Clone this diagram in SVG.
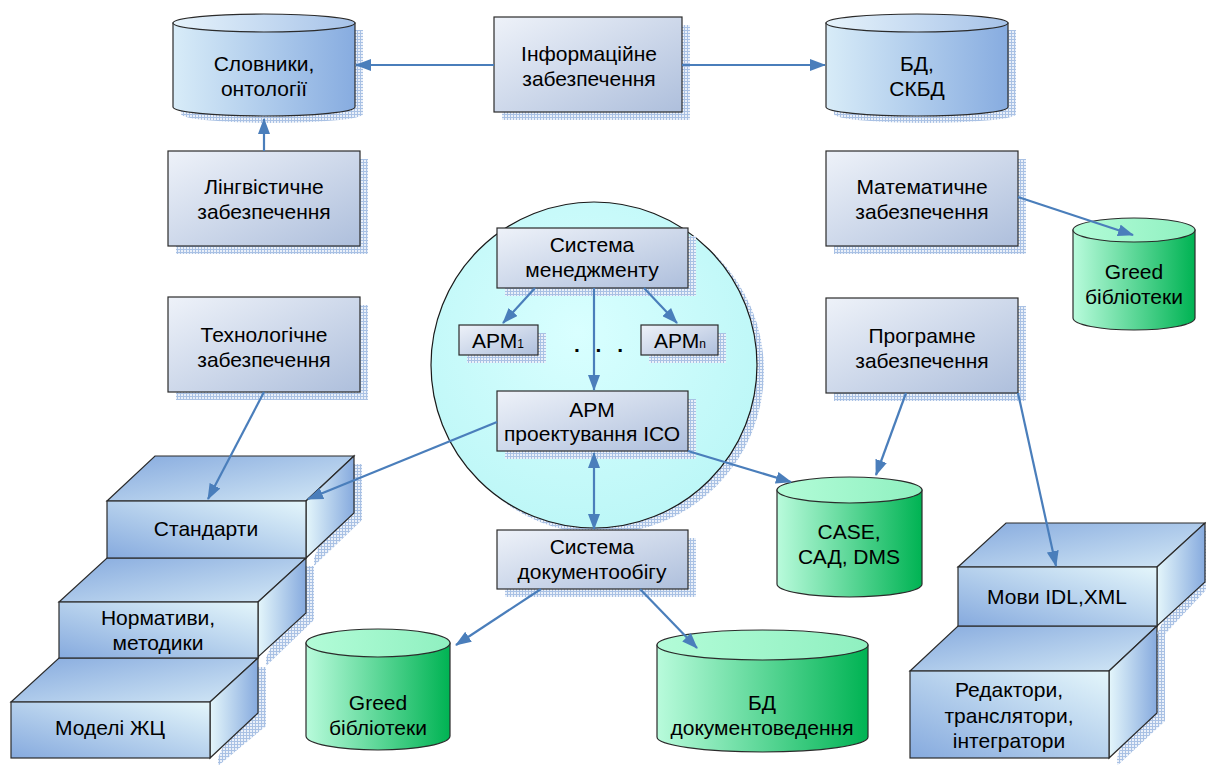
<svg xmlns="http://www.w3.org/2000/svg" width="1206" height="765" viewBox="0 0 1206 765">
<style>
text{font-family:"Liberation Sans",Arial,sans-serif;font-size:21px;fill:#000;text-anchor:middle}
.box{fill:url(#gBox);stroke:#2b2b2b;stroke-width:1.2}
.sh{fill:url(#hatch)}
.bcyl{fill:url(#gBlueCyl);stroke:#2b2b2b;stroke-width:1.2}
.btop{fill:url(#gBlueTop);stroke:#2b2b2b;stroke-width:1.2}
.gcyl{fill:url(#gGreenCyl);stroke:#2b2b2b;stroke-width:1.2}
.gtop{fill:url(#gGreenTop);stroke:#2b2b2b;stroke-width:1.2}
.front{fill:url(#gFront);stroke:#2b2b2b;stroke-width:1.2}
.topf{fill:url(#gTopF);stroke:#2b2b2b;stroke-width:1.2}
.side{fill:url(#gSide);stroke:#2b2b2b;stroke-width:1.2}
.c{stroke:#4a7ebb;stroke-width:2.2;fill:none;marker-end:url(#ah)}
</style>
<defs>
<pattern id="hatch" width="3" height="3" patternUnits="userSpaceOnUse">
<rect width="3" height="3" fill="#eaf0f9"/>
<path d="M0 0.5H3M0.5 0V3" stroke="#a9c1e4" stroke-width="1"/>
</pattern>
<linearGradient id="gBox" x1="0" y1="0" x2="1" y2="1">
<stop offset="0" stop-color="#eef2f9"/>
<stop offset="1" stop-color="#aebfdc"/>
</linearGradient>
<linearGradient id="gBlueCyl" x1="0" y1="0" x2="1" y2="0">
<stop offset="0" stop-color="#d8ecf8"/>
<stop offset="1" stop-color="#87ace0"/>
</linearGradient>
<linearGradient id="gBlueTop" x1="0" y1="0" x2="1" y2="0">
<stop offset="0" stop-color="#e6f3fb"/>
<stop offset="1" stop-color="#a6c2e8"/>
</linearGradient>
<linearGradient id="gGreenCyl" x1="0" y1="0" x2="1" y2="0">
<stop offset="0" stop-color="#b9fbdc"/>
<stop offset="1" stop-color="#00b353"/>
</linearGradient>
<linearGradient id="gGreenTop" x1="0" y1="0" x2="1" y2="0">
<stop offset="0" stop-color="#b3fcd8"/>
<stop offset="1" stop-color="#8ff0c0"/>
</linearGradient>
<linearGradient id="gFront" x1="0" y1="1" x2="1" y2="0">
<stop offset="0" stop-color="#86aade"/>
<stop offset="1" stop-color="#e4f6fb"/>
</linearGradient>
<linearGradient id="gTopF" x1="0" y1="0" x2="1" y2="1">
<stop offset="0" stop-color="#86aade"/>
<stop offset="1" stop-color="#d3e8f6"/>
</linearGradient>
<linearGradient id="gSide" x1="0" y1="0" x2="1" y2="0">
<stop offset="0" stop-color="#e4f6fb"/>
<stop offset="1" stop-color="#86aade"/>
</linearGradient>
<radialGradient id="gCircle" cx="0.45" cy="0.4" r="0.6">
<stop offset="0" stop-color="#d9ffff"/>
<stop offset="1" stop-color="#bdf7f7"/>
</radialGradient>
<marker id="ah" markerWidth="16" markerHeight="12" refX="15" refY="6" orient="auto" markerUnits="userSpaceOnUse">
<path d="M0 0L16 6L0 12Z" fill="#4a7ebb"/>
</marker>
<marker id="ahs" markerWidth="16" markerHeight="12" refX="1" refY="6" orient="auto" markerUnits="userSpaceOnUse">
<path d="M16 0L0 6L16 12Z" fill="#4a7ebb"/>
</marker>
</defs>
<rect width="1206" height="765" fill="#fff"/>

<!-- circle -->
<g id="circle">
<circle cx="601" cy="371" r="163" class="sh"/>
<circle cx="594" cy="365" r="163" fill="url(#gCircle)" stroke="#1a1a1a" stroke-width="1.2"/>
</g>

<!-- top row -->
<g id="slovnyky">
<path class="sh" d="M181 30V114A91 9 0 0 0 363 114V30Z"/>
<path class="bcyl" d="M173 23V107A91 9 0 0 0 355 107V23Z"/>
<ellipse class="btop" cx="264" cy="23" rx="91" ry="9"/>
<text x="264" y="71">Словники,</text>
<text x="264" y="96">онтології</text>
</g>
<g id="info">
<rect class="sh" x="502" y="25" width="188" height="95"/>
<rect class="box" x="494" y="17" width="188" height="95"/>
<text x="589" y="61">Інформаційне</text>
<text x="589" y="86">забезпечення</text>
</g>
<g id="bd">
<path class="sh" d="M834 30V114A91 9 0 0 0 1016 114V30Z"/>
<path class="bcyl" d="M826 23V107A91 9 0 0 0 1008 107V23Z"/>
<ellipse class="btop" cx="917" cy="23" rx="91" ry="9"/>
<text x="917" y="71">БД,</text>
<text x="917" y="96">СКБД</text>
</g>

<!-- second row -->
<g id="lingv">
<rect class="sh" x="176" y="159" width="192" height="95"/>
<rect class="box" x="168" y="151" width="192" height="95"/>
<text x="264" y="194">Лінгвістичне</text>
<text x="264" y="219">забезпечення</text>
</g>
<g id="matem">
<rect class="sh" x="834" y="159" width="192" height="95"/>
<rect class="box" x="826" y="151" width="192" height="95"/>
<text x="922" y="194">Математичне</text>
<text x="922" y="219">забезпечення</text>
</g>
<g id="greed1">
<path class="gcyl" d="M1073 230V318A61 12 0 0 0 1195 318V230Z"/>
<ellipse class="gtop" cx="1134" cy="230" rx="61" ry="12"/>
<text x="1134" y="279">Greed</text>
<text x="1134" y="304">бібліотеки</text>
</g>

<g id="tech">
<rect class="sh" x="176" y="305" width="192" height="95"/>
<rect class="box" x="168" y="297" width="192" height="95"/>
<text x="264" y="342">Технологічне</text>
<text x="264" y="367">забезпечення</text>
</g>
<g id="prog">
<rect class="sh" x="834" y="306" width="192" height="95"/>
<rect class="box" x="826" y="298" width="192" height="95"/>
<text x="922" y="343">Програмне</text>
<text x="922" y="368">забезпечення</text>
</g>

<!-- inside circle -->
<g id="sysmen">
<rect class="sh" x="505" y="236" width="191" height="60"/>
<rect class="box" x="497" y="228" width="191" height="60"/>
<text x="592" y="252">Система</text>
<text x="592" y="277">менеджменту</text>
</g>
<g id="arm1">
<rect class="sh" x="467" y="333" width="79" height="30"/>
<rect class="box" x="459" y="325" width="79" height="30"/>
<text x="498" y="348">АРМ<tspan font-size="12">1</tspan></text>
</g>
<g id="armn">
<rect class="sh" x="649" y="333" width="77" height="30"/>
<rect class="box" x="641" y="325" width="77" height="30"/>
<text x="680" y="348">АРМ<tspan font-size="12">n</tspan></text>
</g>
<g id="dots">
<text x="601" y="352" font-size="24" font-weight="bold" letter-spacing="5">. . .</text>
</g>
<g id="armpiso">
<rect class="sh" x="505" y="399" width="191" height="60"/>
<rect class="box" x="497" y="391" width="191" height="60"/>
<text x="592" y="417">АРМ</text>
<text x="592" y="441">проектування ІСО</text>
</g>
<g id="sysdoc">
<rect class="sh" x="505" y="538" width="191" height="59"/>
<rect class="box" x="497" y="530" width="191" height="59"/>
<text x="592" y="554">Система</text>
<text x="592" y="579">документообігу</text>
</g>

<!-- steps left -->
<g id="modeli">
<path class="sh" d="M258 667L266 667L266 726L218 766L218 758Z"/>
<path class="topf" d="M11 702L59 658L258 658L210 702Z"/>
<path class="side" d="M210 702L258 658L258 713L210 758Z"/>
<rect class="front" x="11" y="702" width="199" height="56"/>
<text x="110" y="735">Моделі ЖЦ</text>
</g>
<g id="normy">
<path class="sh" d="M306 566L314 566L314 620L266 666L266 658Z"/>
<path class="topf" d="M59 602L107 558L306 558L258 602Z"/>
<path class="side" d="M258 602L306 558L306 613L258 657Z"/>
<rect class="front" x="59" y="602" width="199" height="56"/>
<text x="158" y="625">Нормативи,</text>
<text x="158" y="650">методики</text>
</g>
<g id="standarty">
<path class="sh" d="M354 464L362 464L362 520L314 566L314 558Z"/>
<path class="topf" d="M107 501L155 456L354 456L306 501Z"/>
<path class="side" d="M306 501L354 456L354 513L306 558Z"/>
<rect class="front" x="107" y="501" width="199" height="57"/>
<text x="206" y="536">Стандарти</text>
</g>

<!-- green cylinders bottom -->
<g id="case">
<path class="gcyl" d="M777 490V584A72.5 13 0 0 0 922 584V490Z"/>
<ellipse class="gtop" cx="849.5" cy="490" rx="72.5" ry="13"/>
<text x="849" y="539">CASE,</text>
<text x="849" y="564">САД, DMS</text>
</g>
<g id="greed2">
<path class="gcyl" d="M306 643V736A72 14 0 0 0 450 736V643Z"/>
<ellipse class="gtop" cx="378" cy="643" rx="72" ry="14"/>
<text x="378" y="710">Greed</text>
<text x="378" y="735">бібліотеки</text>
</g>
<g id="bddoc">
<path class="gcyl" d="M657 645V737A105.5 15 0 0 0 868 737V645Z"/>
<ellipse class="gtop" cx="762.5" cy="645" rx="105.5" ry="15"/>
<text x="762" y="710">БД</text>
<text x="762" y="735">документоведення</text>
</g>

<!-- steps right -->
<g id="redaktory">
<path class="sh" d="M1157 634L1165 634L1165 721L1117 766L1117 758Z"/>
<path class="topf" d="M910 671L958 626L1157 626L1109 671Z"/>
<path class="side" d="M1109 671L1157 626L1157 713L1109 758Z"/>
<rect class="front" x="910" y="671" width="199" height="87"/>
<text x="1009" y="697">Редактори,</text>
<text x="1009" y="723">транслятори,</text>
<text x="1009" y="748">інтегратори</text>
</g>
<g id="movy">
<path class="sh" d="M1205 531L1206 531L1206 590L1165 634L1157 634Z"/>
<path class="topf" d="M958 567L1006 523L1205 523L1157 567Z"/>
<path class="side" d="M1157 567L1205 523L1205 582L1157 626Z"/>
<rect class="front" x="958" y="567" width="199" height="59"/>
<text x="1057" y="604">Мови IDL,XML</text>
</g>

<!-- connectors -->
<g id="connectors">
<path class="c" d="M494 65H356"/>
<path class="c" d="M682 65H825"/>
<path class="c" d="M264 151V119"/>
<path class="c" d="M1018 197L1133 235"/>
<path class="c" d="M535 288L503 323"/>
<path class="c" d="M644 288L677 323"/>
<path class="c" d="M594 288V390"/>
<path class="c" d="M497 422L308 499"/>
<path class="c" d="M264 392L208 499"/>
<path class="c" d="M688 451L791 482"/>
<path class="c" d="M906 393L876 475"/>
<path class="c" d="M1018 393L1056 566"/>
<path class="c" d="M594 453V529" marker-start="url(#ahs)"/>
<path class="c" d="M541 589L456 645"/>
<path class="c" d="M640 589L697 648"/>
</g>
</svg>
